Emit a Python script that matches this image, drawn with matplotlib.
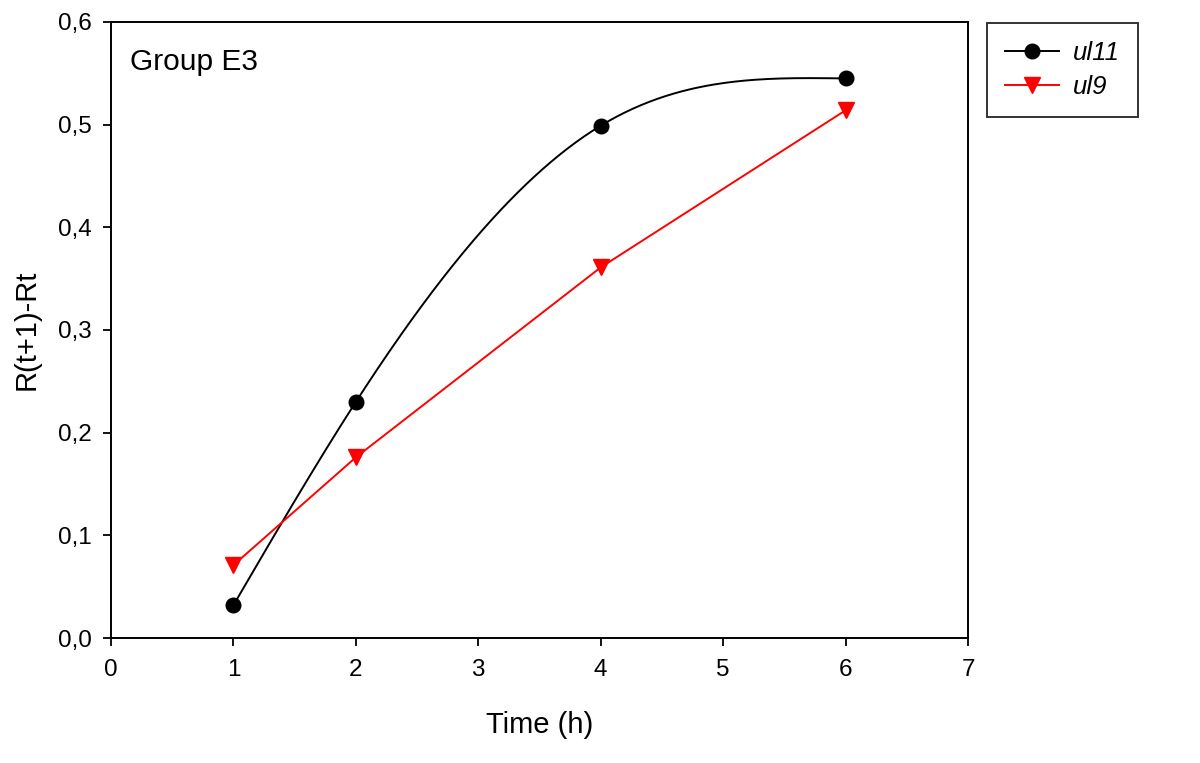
import numpy as np
import matplotlib
matplotlib.use("Agg")
import matplotlib.pyplot as plt
from matplotlib.ticker import FuncFormatter, MultipleLocator
from matplotlib.lines import Line2D

plt.rcParams['font.family'] = ['Liberation Sans', 'DejaVu Sans']

time_h = [1, 2, 4, 6]
ul11 = [0.032, 0.230, 0.499, 0.545]
ul9 = [0.071, 0.176, 0.361, 0.514]


def natural_spline(x, y, n=300):
    x = np.asarray(x, float); y = np.asarray(y, float)
    k = len(x)
    h = np.diff(x)
    A = np.zeros((k, k)); b = np.zeros(k)
    A[0, 0] = 1; A[-1, -1] = 1
    for i in range(1, k - 1):
        A[i, i - 1] = h[i - 1]
        A[i, i] = 2 * (h[i - 1] + h[i])
        A[i, i + 1] = h[i]
        b[i] = 3 * ((y[i + 1] - y[i]) / h[i] - (y[i] - y[i - 1]) / h[i - 1])
    c = np.linalg.solve(A, b)
    xs = np.linspace(x[0], x[-1], n)
    ys = np.empty_like(xs)
    for j, xv in enumerate(xs):
        i = min(np.searchsorted(x, xv, side='right') - 1, k - 2)
        dx = xv - x[i]
        bb = (y[i + 1] - y[i]) / h[i] - h[i] * (2 * c[i] + c[i + 1]) / 3
        d = (c[i + 1] - c[i]) / (3 * h[i])
        ys[j] = y[i] + bb * dx + c[i] * dx ** 2 + d * dx ** 3
    return xs, ys


fig = plt.figure(figsize=(12, 7.63), dpi=100)
ax = fig.add_axes([0.0925, 0.1638, 0.7142, 0.8074])

sx, sy = natural_spline(time_h, ul11)
ax.plot(sx, sy, color='black', lw=1.4)
ax.plot(time_h, ul11, 'o', color='black', ms=10.5)
ax.plot(time_h, ul9, '-v', color='red', lw=1.4, ms=11.5)

ax.set_xlim(0, 7)
ax.set_ylim(0, 0.6)
ax.xaxis.set_major_locator(MultipleLocator(1))
ax.yaxis.set_major_locator(MultipleLocator(0.1))
ax.yaxis.set_major_formatter(FuncFormatter(lambda v, p: f"{v:.1f}".replace('.', ',')))
ax.tick_params(direction='out', length=6, width=1.3, labelsize=17.5)
ax.tick_params(axis='x', pad=9)
ax.tick_params(axis='y', pad=8)
for s in ax.spines.values():
    s.set_linewidth(1.4)

ax.set_xlabel('Time (h)', fontsize=21, labelpad=22)
ax.set_ylabel('R(t+1)-Rt', fontsize=21, labelpad=12)
ax.text(0.022, 0.935, 'Group E3', transform=ax.transAxes, fontsize=21.5, va='center')

handles = [Line2D([], [], color='black', marker='o', ms=10.5, lw=1.4),
           Line2D([], [], color='red', marker='v', ms=11.5, lw=1.4)]
leg = fig.legend(handles, ['ul11', 'ul9'], loc='upper left',
                 bbox_to_anchor=(987 / 1200, 1 - 23 / 763), frameon=True,
                 fancybox=False, prop={'style': 'italic', 'size': 18.5},
                 borderpad=0.7, handlelength=2.1, labelspacing=0.4,
                 handletextpad=0.55, borderaxespad=0)
leg.get_frame().set_edgecolor('black')
leg.get_frame().set_linewidth(1.4)

fig.savefig('out.png', dpi=100)
